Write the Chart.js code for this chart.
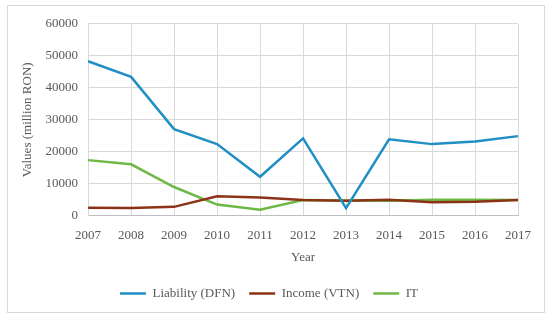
<!DOCTYPE html>
<html>
<head>
<meta charset="utf-8">
<script src="https://cdn.jsdelivr.net/npm/chart.js@4"></script>
<style>
  body { margin: 0; background: #fff; }
  #box {
    position: absolute; left: 7px; top: 5px;
    width: 536px; height: 306px;
    border: 1px solid #d9d9d9;
  }
  #wrap { position: absolute; left: 0; top: 0; width: 536px; height: 306px; }
</style>
</head>
<body>
<div id="box"><div id="wrap"><canvas id="grafico"></canvas></div></div>
<script>
const anos = ['2007','2008','2009','2010','2011','2012','2013','2014','2015','2016','2017'];
const liability = [48300, 43400, 27100, 22400, 12200, 24200, 2400, 23900, 22400, 23200, 24900];
const income = [2500, 2400, 2800, 6100, 5700, 4900, 4700, 5000, 4200, 4400, 4900];
const itVals = [17400, 16100, 9000, 3500, 1900, 4900, 4800, 4700, 5000, 5000, 4900];
const yTicks = [0, 10000, 20000, 30000, 40000, 50000, 60000];

const cinza = '#595959';
const fonte = 'Liberation Serif';

function serie(label, data, cor) {
  return {
    label: label,
    data: data,
    borderColor: cor,
    backgroundColor: cor,
    borderWidth: 2.5,
    pointRadius: 0,
    tension: 0,
    fill: false
  };
}

window.onload = function () {
  const ctx = document.getElementById('grafico').getContext('2d');
  new Chart(ctx, {
    type: 'line',
    data: {
      labels: anos,
      datasets: [
        serie('Liability (DFN)', liability, '#1f8fc4'),
        serie('Income (VTN)', income, '#8c3317'),
        serie('IT', itVals, '#70b846')
      ]
    },
    options: {
      responsive: true,
      maintainAspectRatio: false,
      animation: false,
      layout: { padding: { left: 12, right: 26, top: -1, bottom: 2 } },
      plugins: {
        tooltip: { enabled: false },
        legend: {
          position: 'bottom',
          labels: {
            color: cinza,
            font: { family: fonte, size: 13 },
            boxWidth: 26,
            boxHeight: 0,
            padding: 14
          }
        }
      },
      scales: {
        x: {
          offset: false,
          grid: { color: '#d9d9d9', lineWidth: 1, drawTicks: false },
          border: { color: '#bfbfbf' },
          ticks: { color: cinza, font: { family: fonte, size: 13 }, padding: 12, maxRotation: 0 },
          title: { display: true, text: 'Year', color: cinza, font: { family: fonte, size: 13 }, padding: { top: -6, bottom: 8 } }
        },
        y: {
          min: 0,
          max: 60000,
          afterBuildTicks: function (axis) {
            axis.ticks = yTicks.map(v => ({ value: v }));
          },
          grid: { color: '#d9d9d9', lineWidth: 1, drawTicks: false },
          border: { color: '#d9d9d9' },
          ticks: {
            color: cinza,
            font: { family: fonte, size: 13 },
            padding: 10,
            callback: function (v) { return String(v); }
          },
          title: { display: true, text: 'Values (million RON)', color: cinza, font: { family: fonte, size: 13 }, padding: { top: 0, bottom: 0 } }
        }
      }
    }
  });
};
</script>
</body>
</html>
